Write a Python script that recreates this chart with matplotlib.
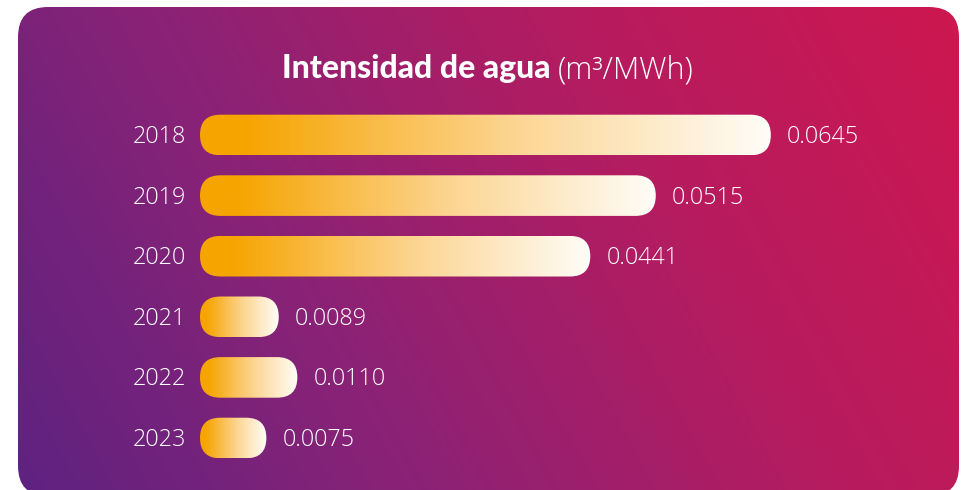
import matplotlib.pyplot as plt
import numpy as np
from matplotlib.patches import FancyBboxPatch
from matplotlib.transforms import IdentityTransform
from matplotlib.colors import LinearSegmentedColormap

# data
years = ['2018', '2019', '2020', '2021', '2022', '2023']
values = [0.0645, 0.0515, 0.0441, 0.0089, 0.0110, 0.0075]
value_labels = ['0.0645', '0.0515', '0.0441', '0.0089', '0.0110', '0.0075']
title_bold = 'Intensidad de agua'
title_unit = '(m³/MWh)'

W, H = 969, 490
fig = plt.figure(figsize=(W / 100, H / 100), dpi=100)
fig.patch.set_facecolor('white')

# card with diagonal purple -> crimson gradient
bg = fig.add_axes([0, 0, 1, 1])
bg.set_xlim(0, W)
bg.set_ylim(0, H)
bg.axis('off')
gx, gy = np.meshgrid(np.linspace(0, 1, 400), np.linspace(0, 1, 200))
tt = 0.78 * gx + 0.22 * gy
bg_cmap = LinearSegmentedColormap.from_list('bg', ['#5e2381', '#8b2276', '#b51c60', '#cd1750'])
card = FancyBboxPatch((18, -6), 941, 489, boxstyle='round,pad=0,rounding_size=30',
                      facecolor='none', edgecolor='none')
bg.add_patch(card)
im = bg.imshow(tt, extent=(18, 959, -6, 483), origin='lower', aspect='auto', cmap=bg_cmap)
im.set_clip_path(card)
bg.set_xlim(0, W)
bg.set_ylim(0, H)

# bars
ax = fig.add_axes([200 / W, (490 - 468.3) / H, 708 / W, 363.6 / H])
ax.set_xlim(0, 0.08)
ax.set_ylim(5.5, -0.5)
ax.set_autoscale_on(False)
ax.axis('off')

bar_cmap = LinearSegmentedColormap.from_list(
    'bar', [(0, '#f6a400'), (0.08, '#f6a400'), (0.55, '#fcd592'), (1, '#fffdf8')])
grad = np.linspace(0, 1, 256).reshape(1, -1)
bh = 0.67
lbl_font = dict(color='white', fontsize=16.8, family='Open Sans', fontweight='light')

for i, v in enumerate(values):
    p0 = ax.transData.transform((0, i + bh / 2))
    p1 = ax.transData.transform((v, i - bh / 2))
    x0, y0 = p0[0], min(p0[1], p1[1])
    w, h = p1[0] - p0[0], abs(p1[1] - p0[1])
    shape = FancyBboxPatch((x0, y0), w, h, boxstyle='round,pad=0,rounding_size=%f' % (h / 2),
                           transform=IdentityTransform(), facecolor='none', edgecolor='none')
    ax.add_patch(shape)
    bar = ax.imshow(grad, extent=(0, v, i + bh / 2, i - bh / 2), aspect='auto', cmap=bar_cmap)
    bar.set_clip_path(shape)
    ax.annotate(years[i], xy=(0, i), xytext=(-14, -2), textcoords='offset pixels',
                ha='right', va='center', **lbl_font)
    ax.annotate(value_labels[i], xy=(v, i), xytext=(16, -2), textcoords='offset pixels',
                ha='left', va='center', **lbl_font)

ax.set_xlim(0, 0.08)
ax.set_ylim(5.5, -0.5)

# title: bold part + light unit, centred together
t1 = fig.text(0, 0, title_bold, fontsize=23, fontweight='black', family='Lato',
              color='white', va='baseline')
t2 = fig.text(0, 0, title_unit, fontsize=22, fontweight='light', family='Open Sans',
              color='white', va='baseline')
renderer = fig.canvas.get_renderer()
w1 = t1.get_window_extent(renderer).width
w2 = t2.get_window_extent(renderer).width
gap = 7
xs = 488 - (w1 + gap + w2) / 2
yb = (490 - 78) / H
t1.set_position((xs / W, yb))
t2.set_position(((xs + w1 + gap) / W, yb))

fig.savefig('out.png', dpi=100)
